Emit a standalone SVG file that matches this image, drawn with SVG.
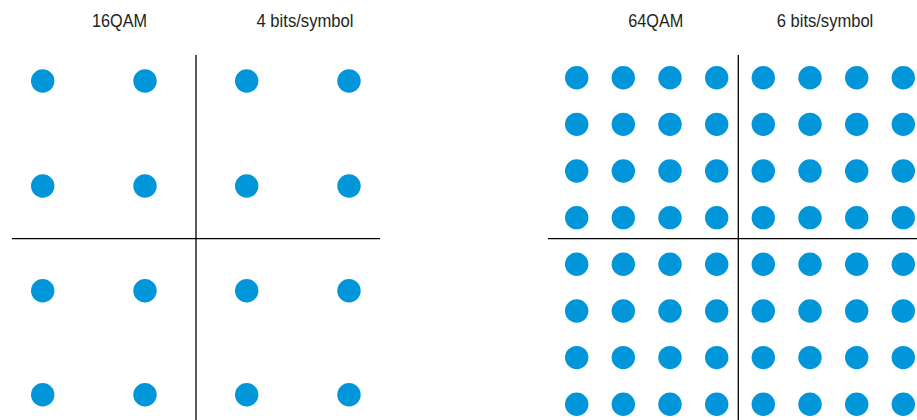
<svg xmlns="http://www.w3.org/2000/svg" width="917" height="420" viewBox="0 0 917 420">
<defs>
<style>
.t{font-family:"Liberation Sans Narrow","Liberation Sans",Arial,sans-serif;font-size:17.5px;fill:#231f20}
.ax{stroke:#000;stroke-width:1.3;fill:none}
.d{fill:#0096d9}
</style>
<circle id="dot" class="d" r="11.7"/>
</defs>
<rect width="917" height="420" fill="#fff"/>
<g id="qam16">
<text class="t" x="92" y="27" textLength="55" lengthAdjust="spacingAndGlyphs">16QAM</text>
<text class="t" x="256.5" y="27" textLength="97" lengthAdjust="spacingAndGlyphs">4 bits/symbol</text>
<g id="axes16">
<line class="ax" x1="196" y1="55" x2="196" y2="420"/>
<line class="ax" x1="12" y1="238.7" x2="380" y2="238.7"/>
</g>
<g id="points16">
<use href="#dot" x="42.7" y="81"/><use href="#dot" x="145" y="81"/><use href="#dot" x="246.7" y="81"/><use href="#dot" x="349" y="81"/>
<use href="#dot" x="42.7" y="186"/><use href="#dot" x="145" y="186"/><use href="#dot" x="246.7" y="186"/><use href="#dot" x="349" y="186"/>
<use href="#dot" x="42.7" y="290.7"/><use href="#dot" x="145" y="290.7"/><use href="#dot" x="246.7" y="290.7"/><use href="#dot" x="349" y="290.7"/>
<use href="#dot" x="42.7" y="394.7"/><use href="#dot" x="145" y="394.7"/><use href="#dot" x="246.7" y="394.7"/><use href="#dot" x="349" y="394.7"/>
</g>
</g>
<g id="qam64">
<text class="t" x="628.3" y="27" textLength="55" lengthAdjust="spacingAndGlyphs">64QAM</text>
<text class="t" x="776.7" y="27" textLength="96.6" lengthAdjust="spacingAndGlyphs">6 bits/symbol</text>
<g id="axes64">
<line class="ax" x1="738.3" y1="55" x2="738.3" y2="420"/>
<line class="ax" x1="548" y1="238.7" x2="917" y2="238.7"/>
</g>
<g id="points64">
<g id="r1" transform="translate(0,77.7)"><use href="#dot" x="576.7"/><use href="#dot" x="623.3"/><use href="#dot" x="670"/><use href="#dot" x="716.7"/><use href="#dot" x="763.3"/><use href="#dot" x="810"/><use href="#dot" x="856.7"/><use href="#dot" x="903.3"/></g>
<use href="#r1" y="46.65"/>
<use href="#r1" y="93.3"/>
<use href="#r1" y="139.95"/>
<use href="#r1" y="186.6"/>
<use href="#r1" y="233.25"/>
<use href="#r1" y="279.9"/>
<use href="#r1" y="326.55"/>
</g>
</g>
</svg>
